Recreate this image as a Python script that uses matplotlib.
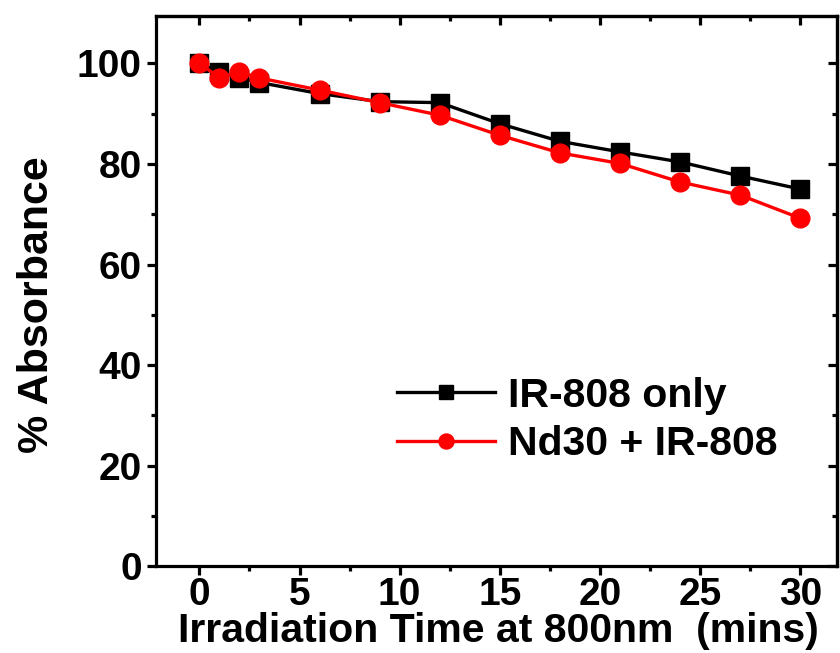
import matplotlib.pyplot as plt
from matplotlib.ticker import MultipleLocator

# Irradiation time (mins) and % absorbance
time_min = [0, 1, 2, 3, 6, 9, 12, 15, 18, 21, 24, 27, 30]
ir808_only = [100, 98.3, 97.2, 96.2, 94.0, 92.4, 92.2, 88.0, 84.5, 82.4, 80.4, 77.6, 75.0]
nd30_ir808 = [100, 97.2, 98.3, 97.1, 94.7, 92.2, 89.7, 85.7, 82.2, 80.1, 76.4, 73.8, 69.2]

plt.rcParams["font.family"] = ["Liberation Sans", "DejaVu Sans"]
plt.rcParams["font.weight"] = "bold"

fig = plt.figure(figsize=(8.4, 6.53), dpi=100)
ax = fig.add_axes([0.186, 0.133, 0.811, 0.843])

ax.plot(time_min, ir808_only, color="black", lw=2.4, marker="s", ms=12.5,
        label="IR-808 only")
ax.plot(time_min, nd30_ir808, color="red", lw=2.4, marker="o", ms=13.5,
        label="Nd30 + IR-808")

ax.set_xlim(-2.15, 31.85)
ax.set_ylim(0, 109.5)
ax.xaxis.set_major_locator(MultipleLocator(5))
ax.xaxis.set_minor_locator(MultipleLocator(2.5))
ax.yaxis.set_major_locator(MultipleLocator(20))
ax.yaxis.set_minor_locator(MultipleLocator(10))

lw = 2.3
for side in ax.spines.values():
    side.set_linewidth(lw)

ax.tick_params(which="both", direction="out", width=lw, labelsize=28,
               top=False, right=False)
ax.tick_params(which="major", length=6.5)
ax.tick_params(which="minor", length=3.5)
ax.tick_params(axis="x", pad=1.5)
ax.tick_params(axis="y", pad=4)

# mirrored inward ticks on top and right
sec_x = ax.secondary_xaxis("top")
sec_x.xaxis.set_major_locator(MultipleLocator(5))
sec_x.xaxis.set_minor_locator(MultipleLocator(2.5))
sec_x.tick_params(which="both", direction="in", width=lw, labeltop=False)
sec_x.tick_params(which="major", length=6.5)
sec_x.tick_params(which="minor", length=3.5)
sec_y = ax.secondary_yaxis("right")
sec_y.yaxis.set_major_locator(MultipleLocator(20))
sec_y.yaxis.set_minor_locator(MultipleLocator(10))
sec_y.tick_params(which="both", direction="in", width=lw, labelright=False)
sec_y.tick_params(which="major", length=6.5)
sec_y.tick_params(which="minor", length=3.5)
for s in (sec_x, sec_y):
    for sp in s.spines.values():
        sp.set_linewidth(lw)

for lab in ax.get_xticklabels() + ax.get_yticklabels():
    lab.set_fontweight("bold")

ax.set_xlabel("Irradiation Time at 800nm  (mins)", fontsize=29.5,
              fontweight="bold", labelpad=-2)
ax.xaxis.set_label_coords(0.5 + 2 / 681, -0.083)
ax.set_ylabel("% Absorbance", fontsize=31, fontweight="bold")
ax.yaxis.set_label_coords(-0.145, 0.475)

leg = ax.legend(loc="center left", bbox_to_anchor=(360 / 840, 0.357),
                bbox_transform=fig.transFigure, frameon=False,
                fontsize=29.5, markerscale=0.8, handlelength=2.4,
                handletextpad=0.3, labelspacing=0.26)
for t in leg.get_texts():
    t.set_fontweight("bold")

fig.savefig("out.png", dpi=100)
